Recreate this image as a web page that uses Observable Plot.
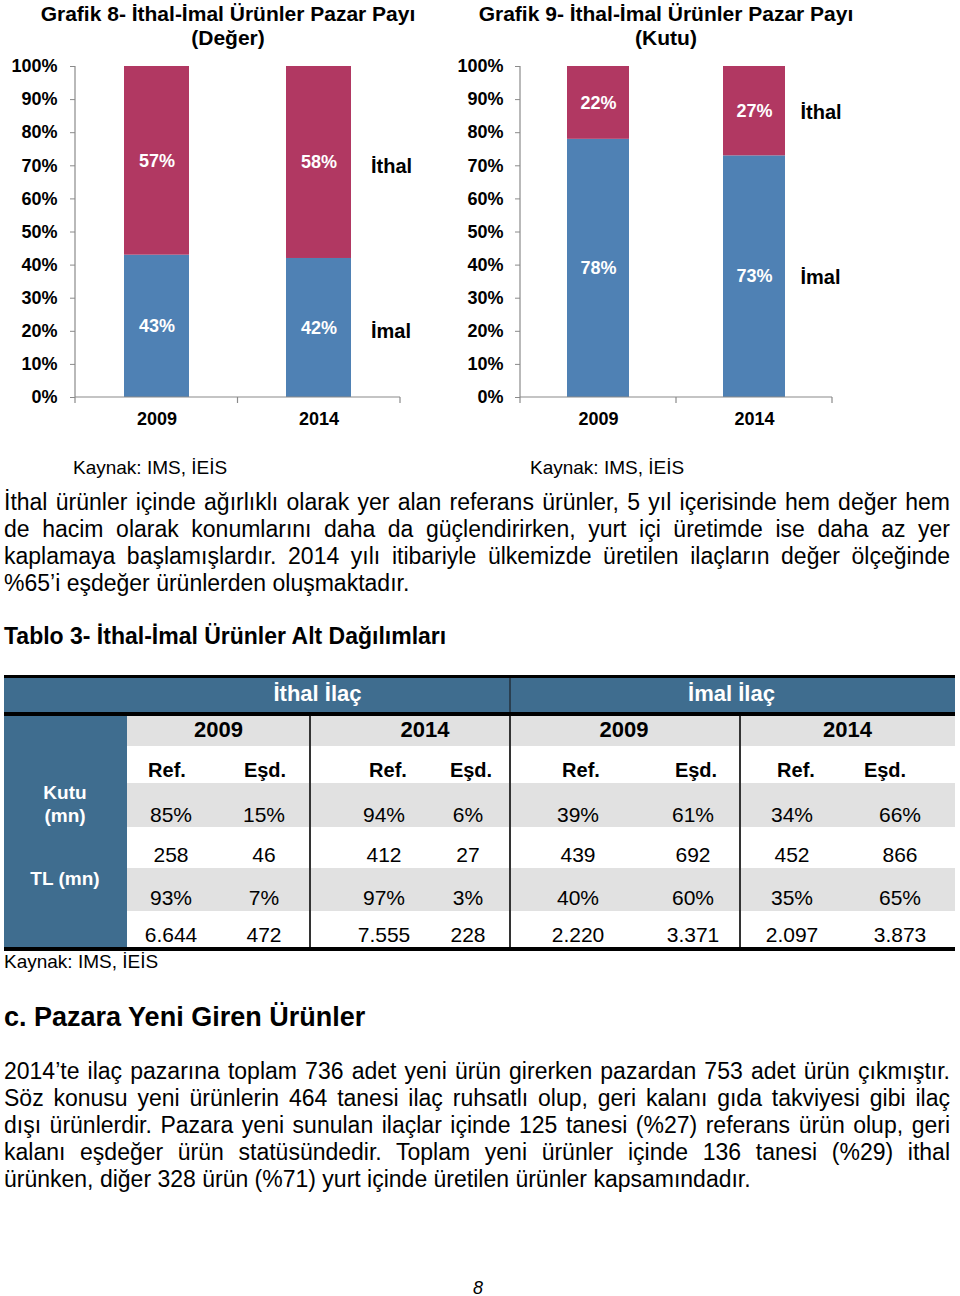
<!DOCTYPE html>
<html>
<head>
<meta charset="utf-8">
<script src="https://cdn.jsdelivr.net/npm/d3@7"></script>
<script src="https://cdn.jsdelivr.net/npm/@observablehq/plot@0.6"></script>
<style>
  body { margin: 0; background: #fff; }
  #page { position: relative; width: 960px; height: 1296px; overflow: hidden;
          font-family: "Liberation Sans", Arial, Helvetica, sans-serif; color: #000; }
  .abs { position: absolute; white-space: nowrap; }
  .ctitle { font-weight: bold; font-size: 21px; line-height: 24px; text-align: center; }
  .src { font-size: 19px; }
  .pline { position: absolute; left: 4px; width: 946px; height: 27px; line-height: 27px;
           font-size: 23px; white-space: nowrap; text-align: justify; text-align-last: justify; }
  .pline.last { text-align: left; text-align-last: left; }
  .c { position: absolute; transform: translate(-50%, -50%); white-space: nowrap; }
</style>
</head>
<body>
<div id="page"></div>
<script>
// ---------- DATA ----------
const years = ["2009", "2014"];
const types = ["İmal", "İthal"];
const degerImal = [43, 42];
const degerIthal = [57, 58];
const kutuImal = [78, 73];
const kutuIthal = [22, 27];
const yTicks = [0, 10, 20, 30, 40, 50, 60, 70, 80, 90, 100];

const chart1Title = ["Grafik 8- İthal-İmal Ürünler Pazar Payı", "(Değer)"];
const chart2Title = ["Grafik 9- İthal-İmal Ürünler Pazar Payı", "(Kutu)"];
const sourceText = "Kaynak: IMS, İEİS";

const para1 = [
  "İthal ürünler içinde ağırlıklı olarak yer alan referans ürünler, 5 yıl içerisinde hem değer hem",
  "de hacim olarak konumlarını daha da güçlendirirken, yurt içi üretimde ise daha az yer",
  "kaplamaya başlamışlardır. 2014 yılı itibariyle ülkemizde üretilen ilaçların değer ölçeğinde",
  "%65’i eşdeğer ürünlerden oluşmaktadır."
];
const tableTitle = "Tablo 3- İthal-İmal Ürünler Alt Dağılımları";
const groups = ["İthal İlaç", "İmal İlaç"];
const tableYears = ["2009", "2014", "2009", "2014"];
const kinds = ["Ref.", "Eşd."];
const rowLabels = [["Kutu", "(mn)"], ["TL (mn)"]];
const kutuShare = ["85%", "15%", "94%", "6%", "39%", "61%", "34%", "66%"];
const kutuCount = ["258", "46", "412", "27", "439", "692", "452", "866"];
const tlShare = ["93%", "7%", "97%", "3%", "40%", "60%", "35%", "65%"];
const tlValue = ["6.644", "472", "7.555", "228", "2.220", "3.371", "2.097", "3.873"];
const sectionTitle = "c. Pazara Yeni Giren Ürünler";
const para2 = [
  "2014’te ilaç pazarına toplam 736 adet yeni ürün girerken pazardan 753 adet ürün çıkmıştır.",
  "Söz konusu yeni ürünlerin 464 tanesi ilaç ruhsatlı olup, geri kalanı gıda takviyesi gibi ilaç",
  "dışı ürünlerdir. Pazara yeni sunulan ilaçlar içinde 125 tanesi (%27) referans ürün olup, geri",
  "kalanı eşdeğer ürün statüsündedir. Toplam yeni ürünler içinde 136 tanesi (%29) ithal",
  "ürünken, diğer 328 ürün (%71) yurt içinde üretilen ürünler kapsamındadır."
];
const pageNumber = "8";

// ---------- LAYOUT ----------
const page = document.getElementById("page");
function div(cls, text, css) {
  const d = document.createElement("div");
  d.className = cls;
  d.textContent = text;
  Object.assign(d.style, css || {});
  page.appendChild(d);
  return d;
}
function centered(text, cx, cy, css) {
  return div("c", text, Object.assign({ left: cx + "px", top: cy + "px" }, css || {}));
}

const COL_IMAL = "#4f81b4";
const COL_ITHAL = "#b13862";

function stackChart({ imal, ithal, width, marginLeft, marginRight, tickPadding, labelDx, labelDy }) {
  const rows = years.flatMap((y, i) => [
    { year: y, type: "İmal", value: imal[i] },
    { year: y, type: "İthal", value: ithal[i] }
  ]);
  const last = years[years.length - 1];
  const frameAxes = (index, scales, values, dims) => {
    const g = d3.create("svg:g").attr("stroke", "#8a8a8a").attr("stroke-width", 1.2);
    const x0 = dims.marginLeft, x1 = dims.width - dims.marginRight;
    const yt = dims.marginTop, yb = dims.height - dims.marginBottom;
    g.append("line").attr("x1", x0).attr("x2", x0).attr("y1", yt).attr("y2", yb);
    g.append("line").attr("x1", x0).attr("x2", x1).attr("y1", yb).attr("y2", yb);
    const n = years.length;
    for (let k = 0; k <= n; k++) {
      const xx = x0 + k * (x1 - x0) / n;
      g.append("line").attr("x1", xx).attr("x2", xx).attr("y1", yb).attr("y2", yb + 6);
    }
    return g.node();
  };
  return Plot.plot({
    width, height: 390,
    marginLeft, marginRight, marginTop: 16, marginBottom: 43,
    style: { fontFamily: "'Liberation Sans', Arial, sans-serif", fontSize: "18px",
             fontWeight: "bold", color: "#000", background: "transparent", overflow: "visible" },
    x: { domain: years, paddingInner: 0.6, paddingOuter: 0.3 },
    y: { domain: [0, 100] },
    color: { domain: types, range: [COL_IMAL, COL_ITHAL] },
    marks: [
      Plot.barY(rows, { x: "year", y: "value", z: "type", fill: "type", order: types }),
      frameAxes,
      Plot.axisY({ ticks: yTicks, tickFormat: d => d + "%", tickSize: 5, tickPadding,
                   stroke: "#8a8a8a", fill: "#000", fontSize: 18, fontWeight: "bold", label: null }),
      Plot.axisX({ tickSize: 0, tickPadding: 15, fill: "#000", fontSize: 18, fontWeight: "bold", label: null }),
      Plot.text(rows, Plot.stackY({ x: "year", y: "value", z: "type", order: types,
                   text: d => d.value + "%", fill: "#fff", fontSize: 18, fontWeight: "bold" })),
      Plot.text(rows.filter(d => d.year === last), Plot.stackY({ x: "year", y: "value", z: "type", order: types,
                   text: "type", dx: labelDx, dy: labelDy, textAnchor: "start", fill: "#000", fontSize: 20, fontWeight: "bold" }))
    ]
  });
}

// Chart 1
const c1 = stackChart({ imal: degerImal, ithal: degerIthal, width: 440, marginLeft: 75, marginRight: 40, tickPadding: 13, labelDx: 52, labelDy: 4 });
Object.assign(c1.style, { position: "absolute", left: "0px", top: "50px" });
page.appendChild(c1);
const t1 = div("abs ctitle", "", { left: "0px", width: "456px", top: "2px" });
t1.innerHTML = chart1Title.join("<br>");
div("abs src", sourceText, { left: "73px", top: "457px" });

// Chart 2
const c2 = stackChart({ imal: kutuImal, ithal: kutuIthal, width: 520, marginLeft: 80, marginRight: 128, tickPadding: 12, labelDx: 46, labelDy: 1 });
Object.assign(c2.style, { position: "absolute", left: "440px", top: "50px" });
page.appendChild(c2);
const t2 = div("abs ctitle", "", { left: "440px", width: "452px", top: "2px" });
t2.innerHTML = chart2Title.join("<br>");
div("abs src", sourceText, { left: "530px", top: "457px" });

// Paragraph 1
para1.forEach((t, i) => {
  div("pline" + (i === para1.length - 1 ? " last" : ""), t, { top: (489 + 27 * i) + "px" });
});

// Table title
div("abs", tableTitle, { left: "4px", top: "622px", fontSize: "23px", fontWeight: "bold", lineHeight: "28px" });

// ---------- TABLE ----------
const TL = 4, TR = 955, LCOL = 127;
const blocks = [127, 310, 510, 740, 955];
const valueX = [171, 264, 384, 468, 578, 693, 792, 900];
const kindX = [167, 265, 388, 471, 581, 696, 796, 885];
const rowY = { top: 675, head: 678, headEnd: 712, yearsTop: 716, kindTop: 746, r1: 783, r2: 827, r3: 868, r4: 911, bottom: 947 };
const BLUE = "#3f6d8f", GRAY = "#e1e1e1";
function rect(x0, y0, x1, y1, bg) {
  div("abs", "", { left: x0 + "px", top: y0 + "px", width: (x1 - x0) + "px", height: (y1 - y0) + "px", background: bg });
}
rect(TL, rowY.top, TR, rowY.head, "#000");
rect(TL, rowY.head, TR, rowY.headEnd, BLUE);
rect(TL, rowY.headEnd, TR, rowY.yearsTop, "#000");
rect(TL, rowY.yearsTop, LCOL, rowY.bottom, BLUE);
rect(LCOL, rowY.yearsTop, TR, rowY.kindTop, GRAY);
rect(LCOL, rowY.r1, TR, rowY.r2, GRAY);
rect(LCOL, rowY.r3, TR, rowY.r4, GRAY);
rect(TL, rowY.bottom, TR, rowY.bottom + 4, "#000");
// vertical separators
[1, 2, 3].forEach(k => rect(blocks[k] - 1, rowY.yearsTop, blocks[k] + 1, rowY.bottom, "#333"));
rect(blocks[2] - 1, rowY.head, blocks[2] + 1, rowY.headEnd, "#2a3f50");

// group header
groups.forEach((g, i) => {
  const cx = i === 0 ? (LCOL + blocks[2]) / 2 - 1 : (blocks[2] + TR) / 2 - 1;
  centered(g, cx, 694, { color: "#fff", fontWeight: "bold", fontSize: "22px" });
});
// years
tableYears.forEach((y, i) => {
  centered(y, (blocks[i] + blocks[i + 1]) / 2 + (i === 1 ? 15 : (i === 2 ? -1 : 0)), 730,
           { fontWeight: "bold", fontSize: "22px" });
});
// kinds
kindX.forEach((x, i) => centered(kinds[i % 2], x, 770, { fontWeight: "bold", fontSize: "20px" }));
// row labels
centered(rowLabels[0][0], 65, 793, { color: "#fff", fontWeight: "bold", fontSize: "19px" });
centered(rowLabels[0][1], 65, 816, { color: "#fff", fontWeight: "bold", fontSize: "19px" });
centered(rowLabels[1][0], 65, 879, { color: "#fff", fontWeight: "bold", fontSize: "19px" });
// values
[[kutuShare, 815], [kutuCount, 855], [tlShare, 898], [tlValue, 935]].forEach(([arr, y]) => {
  arr.forEach((v, i) => centered(v, valueX[i], y, { fontSize: "21px" }));
});
div("abs src", sourceText, { left: "4px", top: "951px" });

// Section title
div("abs", sectionTitle, { left: "4px", top: "1001px", fontSize: "27px", fontWeight: "bold", lineHeight: "32px" });

// Paragraph 2
para2.forEach((t, i) => {
  div("pline" + (i === para2.length - 1 ? " last" : ""), t, { top: (1058 + 27 * i) + "px" });
});

// page number
centered(pageNumber, 478, 1288, { fontSize: "18px", fontStyle: "italic" });
</script>
</body>
</html>
